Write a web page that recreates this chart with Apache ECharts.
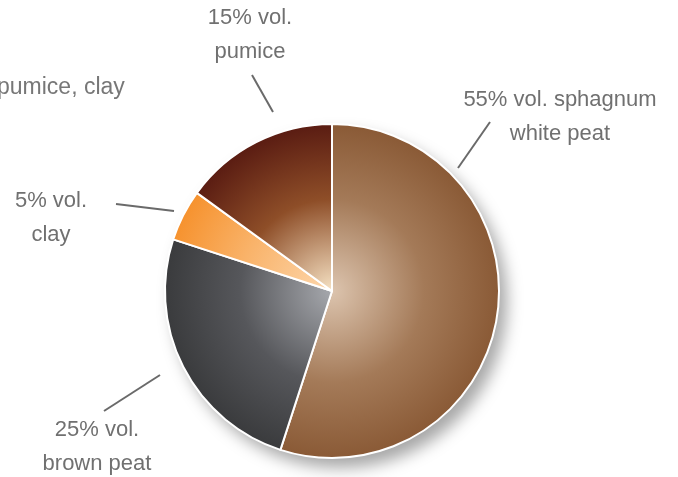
<!DOCTYPE html>
<html>
<head>
<meta charset="utf-8">
<script src="https://cdn.jsdelivr.net/npm/echarts@6/dist/echarts.min.js"></script>
<style>
  html, body { margin: 0; padding: 0; background: #fff; }
  #chart { width: 678px; height: 477px; }
</style>
</head>
<body>
<div id="chart"></div>
<script>
// Substrate composition, % by volume
const components = ['sphagnum white peat', 'brown peat', 'clay', 'pumice'];
const volumes = [55, 25, 5, 15];
const labelTexts = ['55% vol. sphagnum\nwhite peat', '25% vol.\nbrown peat', '5% vol.\nclay', '15% vol.\npumice'];

const CX = 332, CY = 291, R = 167;

// radial shading per slice: [center, middle, edge]
const shades = [
  ['#dcc4ae', '#a47a58', '#8a5a36'],
  ['#a6a8ad', '#56575b', '#3a3b3d'],
  ['#fdd7ad', '#f9b36a', '#f6922e'],
  ['#f6e2c4', '#8e4e28', '#5a1c12']
];

// label placement: text block center and the short pointer segment
const labelSpots = [
  { x: 560, y: 117, line: [[458, 168], [490, 122]] },
  { x: 97, y: 447, line: [[160, 375], [104, 411]] },
  { x: 51, y: 218, line: [[174, 211], [116, 204]] },
  { x: 250, y: 35, line: [[273, 112], [252, 75]] }
];

const FONT = '"Liberation Sans", Arial, sans-serif';

const chart = echarts.init(document.getElementById('chart'));

const pieData = components.map((name, i) => ({
  name: name,
  value: volumes[i],
  label: { formatter: labelTexts[i] },
  itemStyle: {
    color: new echarts.graphic.RadialGradient(CX, CY, R, [
      { offset: 0, color: shades[i][0] },
      { offset: 0.55, color: shades[i][1] },
      { offset: 1, color: shades[i][2] }
    ], true)
  }
}));

chart.setOption({
  animation: false,
  graphic: [{
    type: 'text',
    left: -3,
    top: 76,
    style: {
      text: 'pumice, clay',
      fill: '#777',
      font: '23px ' + FONT
    }
  }],
  series: [
    {
      // soft drop shadow beneath the disc
      type: 'pie',
      center: [CX, CY],
      radius: R,
      silent: true,
      z: 1,
      label: { show: false },
      labelLine: { show: false },
      data: [{ value: 1, itemStyle: { color: '#fff', shadowBlur: 16, shadowOffsetX: 8, shadowOffsetY: 10, shadowColor: 'rgba(0,0,0,0.35)' } }]
    },
    {
      type: 'pie',
      center: [CX, CY],
      radius: R,
      startAngle: 90,
      clockwise: true,
      z: 2,
      itemStyle: { borderColor: '#fff', borderWidth: 2 },
      label: {
        show: true,
        position: 'outside',
        color: '#707070',
        fontSize: 22,
        lineHeight: 34,
        fontFamily: FONT,
        align: 'center',
        overflow: 'none',
        width: 300
      },
      labelLine: {
        show: true,
        lineStyle: { color: '#6a6a6a', width: 2 }
      },
      labelLayout: function (params) {
        const s = labelSpots[params.dataIndex];
        return {
          x: s.x,
          y: s.y,
          align: 'center',
          verticalAlign: 'middle',
          labelLinePoints: [s.line[0], s.line[1], s.line[1]]
        };
      },
      data: pieData
    }
  ]
});
</script>
</body>
</html>
